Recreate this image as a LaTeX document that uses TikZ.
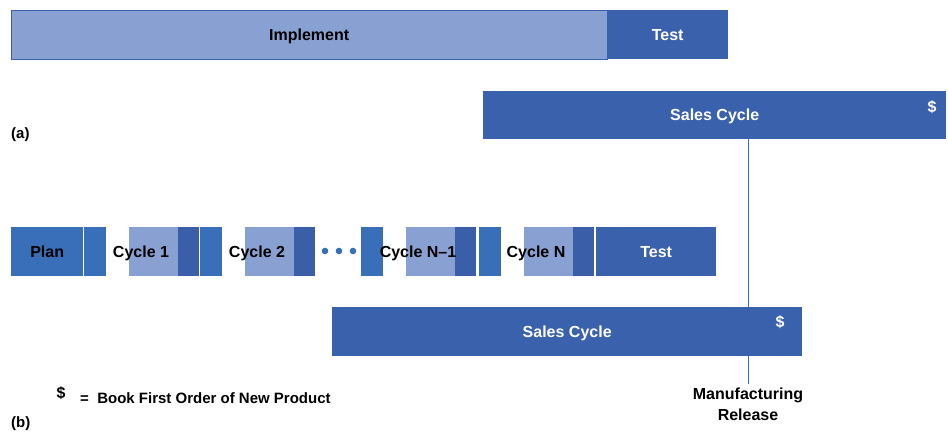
\documentclass[tikz,border=0pt]{standalone}
\usepackage{fontspec}
\setmainfont{Liberation Sans}
\usetikzlibrary{backgrounds}

\definecolor{barlight}{RGB}{137,160,210}
\definecolor{bardark}{RGB}{58,97,172}
\definecolor{barmid}{RGB}{56,111,184}
\definecolor{barend}{RGB}{58,94,168}
\definecolor{barline}{RGB}{62,98,170}

\begin{document}
\begin{tikzpicture}[x=1pt, y=-1pt,
  font=\bfseries\fontsize{16}{18}\selectfont,
  seg/.style={fill=#1, draw=none, inner sep=0pt, anchor=north west, minimum height=49pt,
    text height=11.5pt, text depth=0pt},
  lbl/.style={inner sep=0pt, text height=11.5pt, text depth=0pt},
  money/.style={inner sep=0pt, text=white, font=\bfseries\fontsize{16}{18}\selectfont},
  small/.style={inner sep=0pt, font=\bfseries\fontsize{15}{21}\selectfont}]
\useasboundingbox (0,0) rectangle (948,432);

% (a) one long implement phase, then test
\node[seg=barlight, draw=barline, minimum width=596pt] (impl) at (11,10) {Implement};
\node[seg=bardark, minimum width=121pt, text=white] (testA) at (607,10) {Test};
\node[seg=bardark, minimum width=463pt, minimum height=48pt, text=white] (salesA) at (483,91) {Sales Cycle};
\node[money] (dollarA) at (932,107) {\$};
\node[small, anchor=west] (labA) at (11,135) {(a)};

% (b) plan, short cycles, test
\node[seg=barmid, minimum width=72pt] (plan) at (11,227) {Plan};
\foreach \x/\nm/\txt in {84/c1/Cycle 1, 200/c2/Cycle 2, 361/c3/Cycle N–1, 479/c4/Cycle N} {
  \node[seg=barmid, minimum width=22pt] (\nm lead) at (\x,227) {};
  \node[seg=white, minimum width=23pt] (\nm white) at (\x+22,227) {};
  \node[seg=barlight, minimum width=49pt] (\nm work) at (\x+45,227) {};
  \node[seg=barend, minimum width=21pt] (\nm end) at (\x+94,227) {};
  \node[lbl] (\nm txt) at (\x+57,251.5) {\txt};
}
\foreach \x in {325,339,353}
  \fill[barmid] (\x,251) circle (3.3pt);
\node[seg=bardark, minimum width=120pt, text=white] (testB) at (596,227) {Test};
\node[seg=bardark, minimum width=470pt, text=white] (salesB) at (332,307) {Sales Cycle};
\node[money] (dollarB) at (780,322) {\$};

% release marker
\node[small, align=center, anchor=north, font=\bfseries\fontsize{16}{21}\selectfont] (rel) at (748,388) {Manufacturing\\Release};
\begin{scope}[on background layer]
\draw[barmid, line width=1pt] (salesA.south -| rel.north) -- ([yshift=4pt]rel.north);
\end{scope}

% legend
\node[money, text=black] (key) at (61,393) {\$};
\node[small, anchor=west] (keytxt) at (80,398) {=\ \ Book First Order of New Product};
\node[small, anchor=west] (labB) at (11,424) {(b)};
\end{tikzpicture}
\end{document}
